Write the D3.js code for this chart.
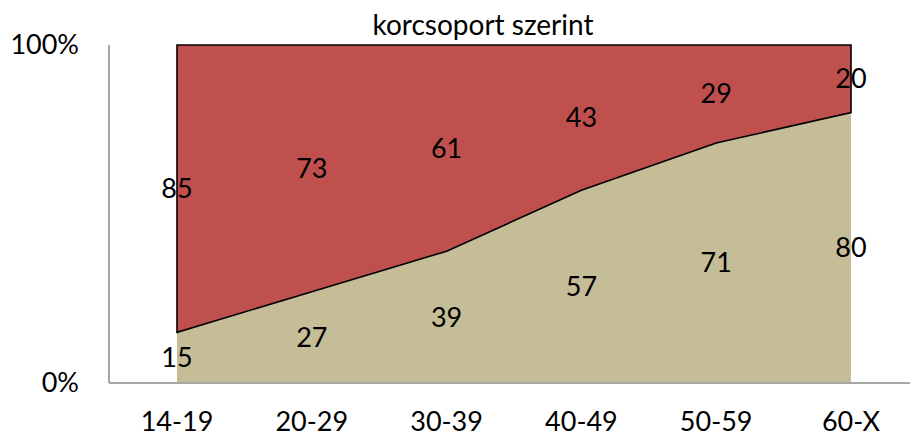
<!DOCTYPE html>
<html><head><meta charset="utf-8">
<script src="https://cdn.jsdelivr.net/npm/d3@7"></script>
<style>body{margin:0;background:#fff}svg{display:block}text{font-family:Lato,"Open Sans",sans-serif;fill:#000}</style>
</head><body><svg id="c" width="910" height="436"></svg>
<script>
const categories = ["14-19","20-29","30-39","40-49","50-59","60-X"];
const lowerValues = [15,27,39,57,71,80];
const upperValues = [85,73,61,43,29,20];
const yTicks = [0,100];
const title = "korcsoport szerint";

const svg = d3.select("#c");
const x = d3.scalePoint().domain(categories).range([177,851]);
const y = d3.scaleLinear().domain([0,100]).range([383,45]);

const data = categories.map((c,i)=>({cat:c, lower:lowerValues[i], upper:upperValues[i]}));
const stack = d3.stack().keys(["lower","upper"])(data);

const area = d3.area().x(d=>x(d.data.cat)).y0(d=>y(d[0])).y1(d=>y(d[1]));
const colors = ["#c4bd97","#c0504d"];

svg.selectAll("path.a").data(stack).join("path")
  .attr("d", area).attr("fill",(d,i)=>colors[i])
  .attr("stroke",(d,i)=>i===1?"#000":"none").attr("stroke-width",1.6)
  .attr("stroke-linejoin","miter");

// axes
svg.append("line").attr("x1",109).attr("x2",910).attr("y1",383).attr("y2",383)
  .attr("stroke","#a6a6a6").attr("stroke-width",2);
svg.append("line").attr("x1",109).attr("x2",109).attr("y1",45).attr("y2",383)
  .attr("stroke","#a6a6a6").attr("stroke-width",2);

svg.selectAll("text.yt").data(yTicks).join("text")
  .attr("x",79).attr("y",d=>y(d)).attr("dy","0.35em").attr("text-anchor","end")
  .attr("font-size",27).text(d=>d+"%");

svg.selectAll("text.xt").data(categories).join("text")
  .attr("x",d=>x(d)).attr("y",422).attr("dy","0.35em").attr("text-anchor","middle")
  .attr("font-size",27).text(d=>d);

svg.append("text").attr("x",483).attr("y",25).attr("dy","0.35em").attr("text-anchor","middle")
  .attr("font-size",28).text(title);

stack.forEach(s=>{
  svg.selectAll(null).data(s).join("text")
    .attr("x",d=>x(d.data.cat)).attr("y",d=>y((d[0]+d[1])/2)).attr("dy","0.35em")
    .attr("text-anchor","middle").attr("font-size",27)
    .text(d=>d[1]-d[0]);
});
</script></body></html>
